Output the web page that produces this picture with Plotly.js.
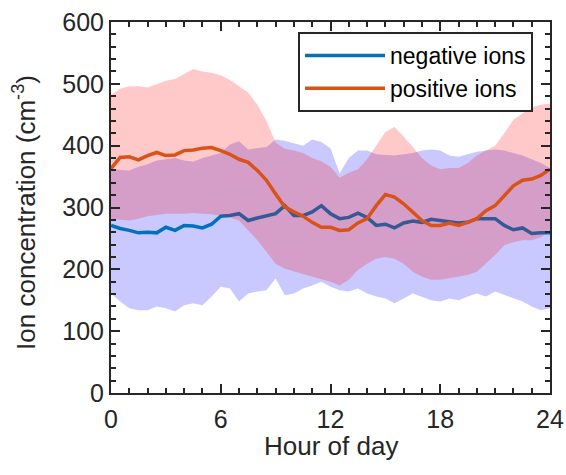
<!DOCTYPE html>
<html>
<head>
<meta charset="utf-8">
<script src="https://cdn.plot.ly/plotly-3.0.1.min.js"></script>
<style>html,body{margin:0;padding:0;background:#fff;}#chart{width:566px;height:475px;}</style>
</head>
<body>
<div id="chart"></div>
<script>
// hour of day, every half hour
const hours = [0,0.5,1,1.5,2,2.5,3,3.5,4,4.5,5,5.5,6,6.5,7,7.5,8,8.5,9,9.5,10,10.5,11,11.5,12,12.5,13,13.5,14,14.5,15,15.5,16,16.5,17,17.5,18,18.5,19,19.5,20,20.5,21,21.5,22,22.5,23,23.5,24];

const negMean = [271,266,263,259,260,259,268,263,271,270,267,273,286,287,290,279,283,287,290,303,287,287,293,303,290,282,284,291,284,271,273,267,275,278,276,281,279,276,275,276,282,282,282,271,264,267,258,259,259];
const negUpper = [362,361,360,366,370,376,378,380,376,374,380,384,388,402,407,394,396,398,410,408,404,400,410,406,396,355,380,392,392,386,385,384,386,388,392,394,392,384,382,386,390,392,394,392,388,384,378,372,364];
const negLower = [161,148,137,134,134,140,137,132,142,145,142,156,172,169,148,161,164,166,185,158,161,169,174,180,172,166,164,169,161,156,153,145,153,161,156,150,148,153,150,156,161,156,164,158,153,148,140,134,137];

const posMean = [363,381,382,377,384,389,384,385,392,393,396,397,392,386,378,373,360,344,322,301,293,286,276,268,268,263,264,275,282,303,321,317,306,293,279,271,271,275,271,276,282,295,303,319,335,344,346,352,362];
const posUpper = [482,492,496,496,494,500,505,508,516,524,520,518,514,506,496,486,466,440,405,395,392,388,380,375,366,348,356,362,378,400,422,430,415,398,380,368,362,364,364,372,384,392,400,420,442,452,462,466,468];
const posLower = [282,280,279,282,286,288,290,290,290,291,290,289,287,284,279,263,247,228,209,201,196,192,188,184,180,174,183,199,209,217,220,217,209,196,188,183,183,185,188,191,196,209,223,239,244,247,247,252,263];

const seriesNames = ['negative ions','positive ions'];
const xTicks = [0,6,12,18,24];
const yTicks = [0,100,200,300,400,500,600];
const xTitle = 'Hour of day';
const yTitle = 'Ion concentration (cm<sup>-3</sup>)';

const FONT = 'Liberation Sans, Arial, sans-serif';

function band(upper, lower, color) {
  return {
    x: hours.concat(hours.slice().reverse()),
    y: upper.concat(lower.slice().reverse()),
    type: 'scatter', mode: 'lines', fill: 'toself',
    fillcolor: color, line: {width: 0, color: color},
    hoverinfo: 'skip', showlegend: false
  };
}

const axisCommon = {
  showgrid: false, zeroline: false, showline: true, linecolor: '#262626', linewidth: 2,
  mirror: 'ticks', ticks: 'inside', ticklen: 9, tickwidth: 2, tickcolor: '#262626',
  tickfont: {family: FONT, size: 25, color: '#262626'},
  automargin: false
};

const traces = [
  band(negUpper, negLower, 'rgba(0,0,255,0.21)'),
  {x: hours, y: negMean, type: 'scatter', mode: 'lines', name: seriesNames[0],
   line: {color: '#0072BD', width: 3.5}},
  band(posUpper, posLower, 'rgba(255,0,0,0.21)'),
  {x: hours, y: posMean, type: 'scatter', mode: 'lines', name: seriesNames[1],
   line: {color: '#D95319', width: 3.5}}
];

const layout = {
  width: 566, height: 475,
  margin: {l: 111, r: 16, t: 22, b: 82},
  paper_bgcolor: '#fff', plot_bgcolor: '#fff',
  showlegend: true,
  legend: {
    x: 0.426, y: 0.973, xanchor: 'left', yanchor: 'top',
    bgcolor: '#fff', bordercolor: '#262626', borderwidth: 2,
    font: {family: FONT, size: 23, color: '#000'},
    itemwidth: 80, tracegroupgap: 0
  },
  xaxis: Object.assign({}, axisCommon, {
    range: [0, 24], tickvals: xTicks, ticktext: xTicks.map(String),
    ticklabelstandoff: 3,
    minor: {dtick: 1, ticklen: 5, tickwidth: 2, tickcolor: '#262626', ticks: 'inside'}
  }),
  yaxis: Object.assign({}, axisCommon, {
    range: [0, 600], tickvals: yTicks, ticktext: yTicks.map(String),
    minor: {dtick: 20, ticklen: 5, tickwidth: 2, tickcolor: '#262626', ticks: 'inside'}
  }),
  annotations: [
    {text: xTitle, xref: 'paper', yref: 'paper', x: 0.5, y: -0.143,
     xanchor: 'center', yanchor: 'middle', showarrow: false,
     font: {family: FONT, size: 26, color: '#262626'}},
    {text: yTitle, xref: 'paper', yref: 'paper', x: -0.196, y: 0.488,
     xanchor: 'center', yanchor: 'middle', showarrow: false, textangle: -90,
     font: {family: FONT, size: 26, color: '#262626'}}
  ]
};

Plotly.newPlot('chart', traces, layout, {staticPlot: true, displayModeBar: false});
</script>
</body>
</html>
